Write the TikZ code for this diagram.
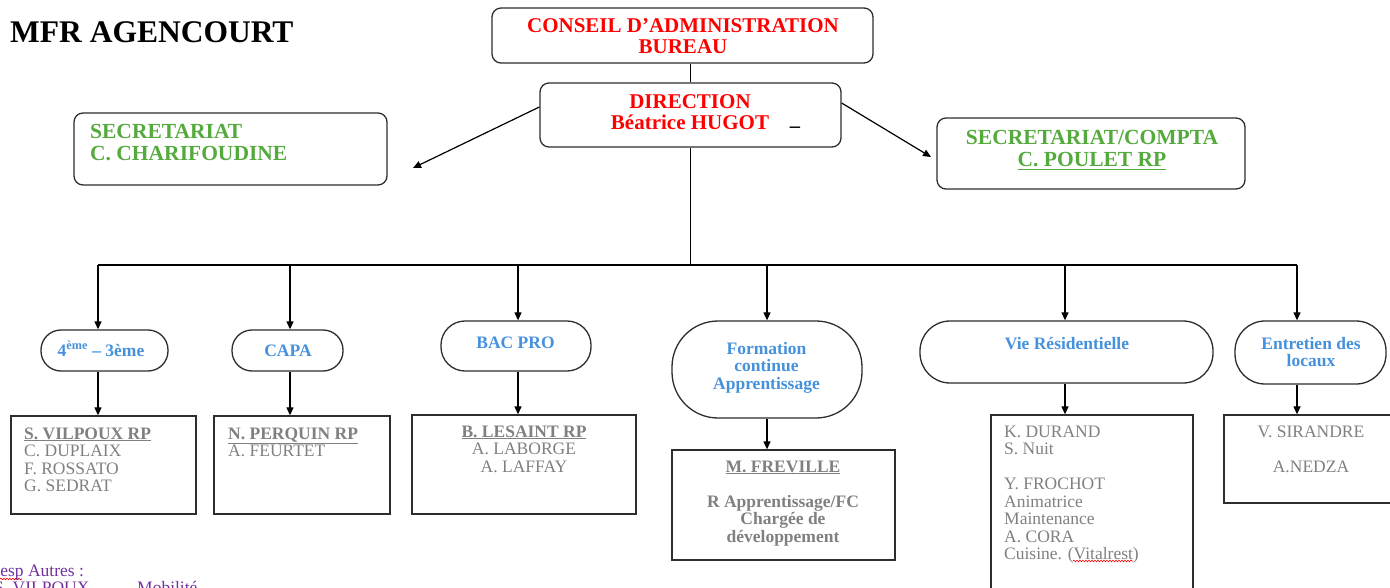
\documentclass[tikz,border=0pt]{standalone}
\usepackage{fontspec}
\setmainfont{Liberation Serif}
\usetikzlibrary{arrows.meta,decorations.pathmorphing}
\definecolor{cred}{RGB}{255,0,0}
\definecolor{cgreen}{RGB}{84,170,60}
\definecolor{cblue}{RGB}{70,145,220}
\definecolor{cgray}{RGB}{128,128,128}
\definecolor{cpurple}{RGB}{112,48,160}
\definecolor{cborder}{RGB}{45,45,45}
\newcommand\mylines[2]{\begin{tabular}[t]{@{}#1@{}}#2\end{tabular}}
\begin{document}
\begin{tikzpicture}[x=1pt,y=-1pt,
  topbox/.style={draw=cborder,line width=1.3pt,rounded corners=9pt,inner sep=0pt},
  pill/.style={draw=cborder,line width=1.3pt,inner sep=0pt},
  staffbox/.style={draw=cborder,line width=1.3pt,inner sep=0pt},
  conn/.style={line width=1.2pt,black},
  arr/.style={conn,-{Triangle[length=8pt,width=7pt]}},
  txt/.style={inner sep=0pt,anchor=base},
  ltxt/.style={inner sep=0pt,anchor=base west},
  redtxt/.style={txt,text=cred,font=\bfseries\fontsize{21}{21}\selectfont},
  greentxt/.style={text=cgreen,font=\bfseries\fontsize{21.5}{22}\selectfont},
  bluetxt/.style={txt,text=cblue,font=\bfseries\fontsize{17.5}{17.5}\selectfont},
  graytxt/.style={text=cgray,font=\fontsize{17.5}{17.5}\selectfont},
  graybold/.style={text=cgray,font=\bfseries\fontsize{17.5}{17.5}\selectfont},
  wavy/.style={draw=red,line width=0.6pt,decorate,decoration={snake,amplitude=0.8pt,segment length=3pt}}
]
\useasboundingbox (0,0) rectangle (1390,588);
\clip (0,0) rectangle (1390,588);

% title
\node[ltxt,font=\bfseries\fontsize{31.5}{31.5}\selectfont] (title) at (10,43) {MFR AGENCOURT};

% top boxes
\node[topbox,minimum width=381pt,minimum height=55pt] (ca) at (682.5,35.5) {};
\node[redtxt] (catxt) at (683,33) {\mylines{c}{CONSEIL D’ADMINISTRATION\\BUREAU}};

\node[topbox,minimum width=301pt,minimum height=64pt] (dir) at (690.5,115) {};
\node[redtxt] (dirtxt) at (690,109) {\mylines{c}{DIRECTION\\Béatrice HUGOT}};
\node[txt,font=\bfseries\fontsize{20.5}{21}\selectfont] (dash) at (795,133) {–};

\node[topbox,minimum width=313pt,minimum height=72pt] (sec) at (230.5,149) {};
\node[ltxt,greentxt] (sectxt) at (90,139) {\mylines{l}{SECRETARIAT\\C. CHARIFOUDINE}};

\node[topbox,minimum width=308pt,minimum height=71pt] (compta) at (1091,153.5) {};
\node[txt,greentxt] (comptatxt) at (1092,145) {\mylines{c}{SECRETARIAT/COMPTA\\\underline{C. POULET RP}}};

% department pills
\node[pill,rounded corners=20pt,minimum width=127pt,minimum height=41pt] (o1) at (104.5,350.5) {};
\node[bluetxt] (o1t) at (101,356) {4\textsuperscript{ème} – 3ème};
\node[pill,rounded corners=20pt,minimum width=111pt,minimum height=41pt] (o2) at (287.5,350.5) {};
\node[bluetxt] (o2t) at (288,356) {CAPA};
\node[pill,rounded corners=24pt,minimum width=150pt,minimum height=50pt] (o3) at (516,346) {};
\node[bluetxt] (o3t) at (515.5,348) {BAC PRO};
\node[pill,rounded corners=46pt,minimum width=190pt,minimum height=97pt] (o4) at (767,369.5) {};
\node[bluetxt] (o4t) at (766.5,354) {\mylines{c}{Formation\\continue\\Apprentissage}};
\node[pill,rounded corners=30pt,minimum width=293pt,minimum height=62pt] (o5) at (1066.5,352) {};
\node[bluetxt] (o5t) at (1067,349) {Vie Résidentielle};
\node[pill,rounded corners=30pt,minimum width=151pt,minimum height=63pt] (o6) at (1310.5,352.5) {};
\node[bluetxt] (o6t) at (1311,349) {\mylines{c}{Entretien des\\locaux}};

% staff boxes
\node[staffbox,minimum width=185pt,minimum height=98pt] (r1) at (103.5,465) {};
\node[ltxt,graytxt] (r1t) at (24,439) {\mylines{l}{\textbf{\underline{S. VILPOUX RP}}\\C. DUPLAIX\\F. ROSSATO\\G. SEDRAT}};
\node[staffbox,minimum width=176pt,minimum height=98pt] (r2) at (302,465) {};
\node[ltxt,graytxt] (r2t) at (228,439) {\mylines{l}{\textbf{\underline{N. PERQUIN RP}}\\A. FEURTET}};
\node[staffbox,minimum width=224pt,minimum height=99pt] (r3) at (524,464.5) {};
\node[txt,graytxt] (r3t) at (524,437) {\mylines{c}{\textbf{\underline{B. LESAINT RP}}\\A. LABORGE\\A. LAFFAY}};
\node[staffbox,minimum width=223pt,minimum height=110pt] (r4) at (783.5,505) {};
\node[txt,graybold] (r4t) at (783,472) {\mylines{c}{\underline{M. FREVILLE}\\ \\R Apprentissage/FC\\Chargée de\\développement}};
\node[staffbox,minimum width=202pt,minimum height=185pt] (r5) at (1092,507.5) {};
\node[ltxt,graytxt] (r5t) at (1004,437) {\mylines{l}{K. DURAND\\S. Nuit\\ \\Y. FROCHOT\\Animatrice\\Maintenance\\A. CORA\\Cuisine. (Vitalrest)}};
\node[staffbox,minimum width=171pt,minimum height=88pt] (r6) at (1309.5,459) {};
\node[txt,graytxt] (r6t) at (1311,437) {\mylines{c}{V. SIRANDRE\\ \\A.NEDZA}};

% spell-check marks
\draw[wavy] (1073,561) -- (1133,561);
\draw[wavy] (0,579) -- (22,579);

% bottom note
\node[ltxt,text=cpurple,font=\fontsize{17.5}{17.5}\selectfont] (resp) at (-11.5,576) {Resp Autres :};
\node[ltxt,text=cpurple,font=\fontsize{17.5}{17.5}\selectfont] (vil) at (-6,593.5) {S. VILPOUX};
\node[ltxt,text=cpurple,font=\fontsize{17.5}{17.5}\selectfont] (mob) at (137,593.5) {Mobilité};

% connectors
\coordinate (b1) at (98,265);
\coordinate (b2) at (290,265);
\coordinate (b3) at (518,265);
\coordinate (b4) at (767,265);
\coordinate (b5) at (1065,265);
\coordinate (b6) at (1297,265);
\coordinate (secend) at (413,168);
\coordinate (compend) at (931,157);

\draw[conn] (dir.north |- ca.south) -- (dir.north);
\draw[arr] ([yshift=8pt]dir.west) -- (secend);
\draw[arr] ([yshift=12pt]dir.east) -- (compend);
\draw[conn] (dir.south) -- (dir.south |- b1);
\draw[conn] (b1) -- (b6);
\foreach \i in {1,...,6}{
  \draw[arr] (b\i) -- (b\i |- o\i.north);
  \draw[arr] (b\i |- o\i.south) -- (b\i |- r\i.north);
}
\end{tikzpicture}
\end{document}
